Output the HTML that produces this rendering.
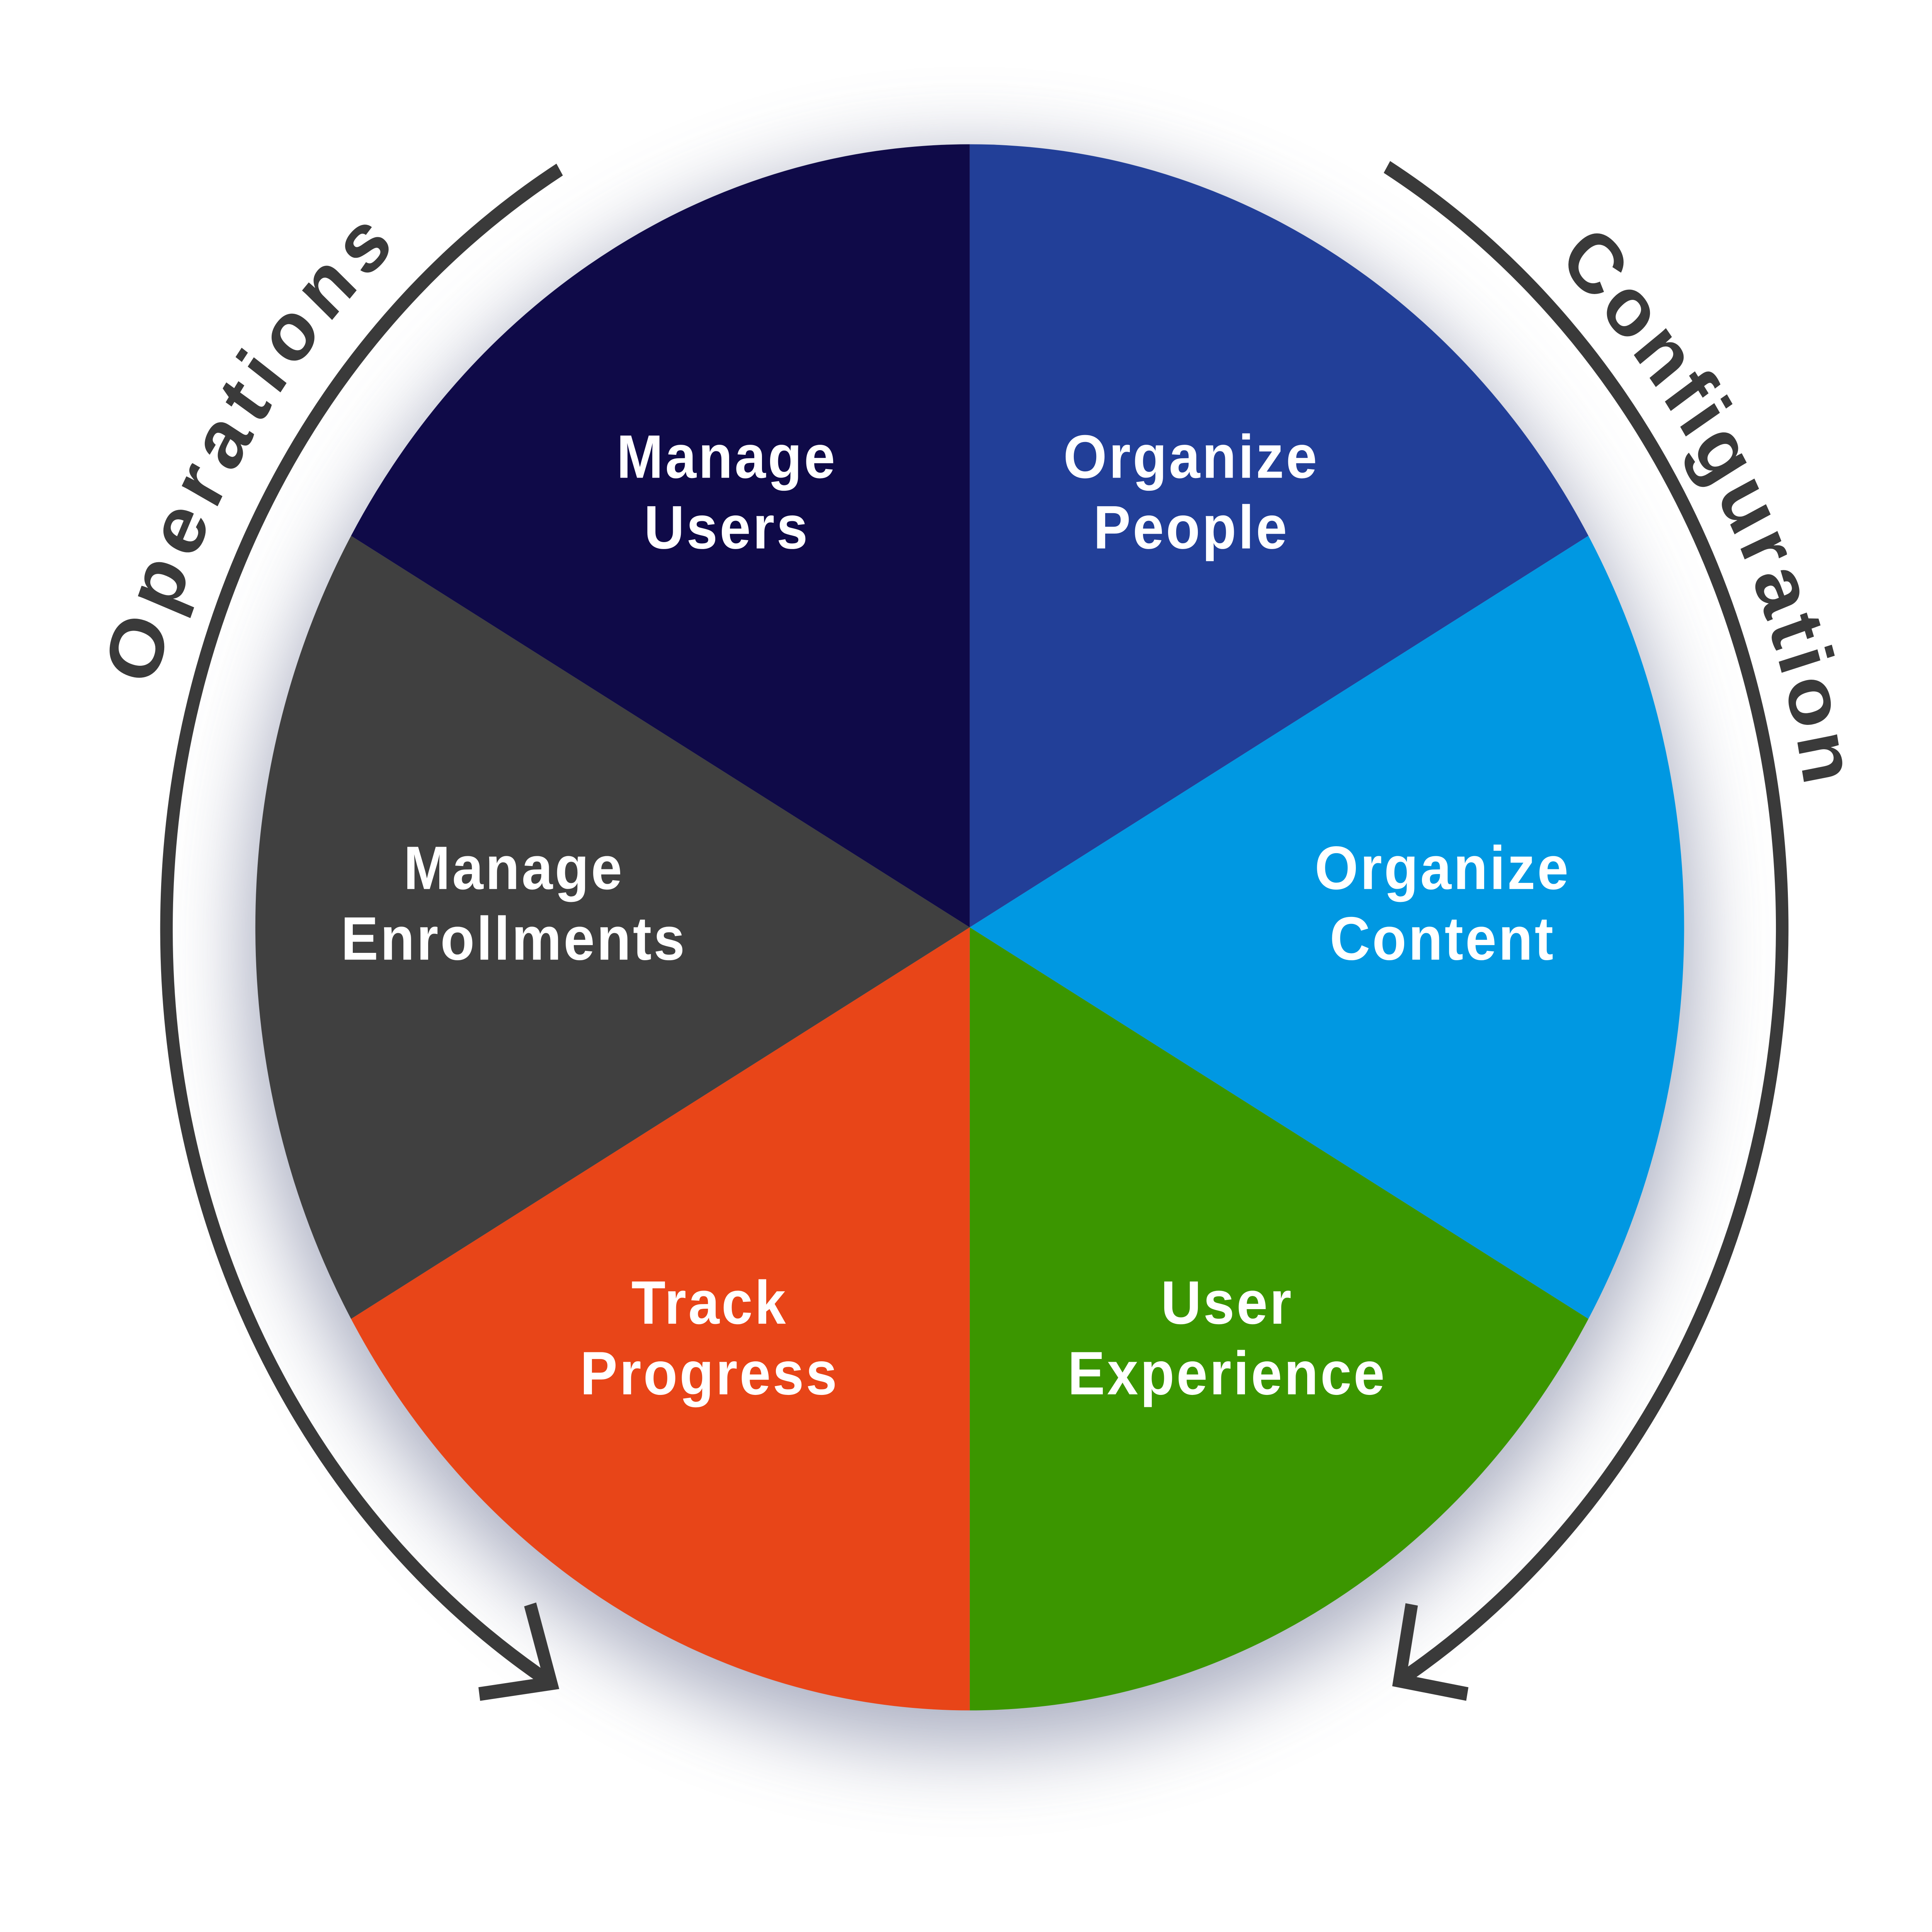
<!DOCTYPE html>
<html><head><meta charset="utf-8"><style>html,body{margin:0;padding:0;background:#fff;width:100%;height:100%;overflow:hidden}svg{display:block;width:100vw;height:100vh}</style></head>
<body>
<svg viewBox="0 0 5696 5196" preserveAspectRatio="none" xmlns="http://www.w3.org/2000/svg">
<defs>
<filter id="sh" x="-30%" y="-30%" width="160%" height="160%"><feGaussianBlur stdDeviation="110"/></filter>
</defs>
<rect width="5696" height="5196" fill="#fff"/>
<circle cx="2859" cy="2560" r="2140" fill="#8f94ad" opacity="0.75" filter="url(#sh)"/>
<g transform="translate(2859,2494)">
<path d="M0 0 L0 -2106 A2106 2106 0 0 1 1824 -1053 Z" fill="#223f98"/>
<path d="M0 0 L1824 -1053 A2106 2106 0 0 1 1824 1053 Z" fill="#0098e2"/>
<path d="M0 0 L1824 1053 A2106 2106 0 0 1 0 2106 Z" fill="#3b9600"/>
<path d="M0 0 L0 2106 A2106 2106 0 0 1 -1824 1053 Z" fill="#e84518"/>
<path d="M0 0 L-1824 1053 A2106 2106 0 0 1 -1824 -1053 Z" fill="#404040"/>
<path d="M0 0 L-1824 -1053 A2106 2106 0 0 1 0 -2106 Z" fill="#0f0a48"/>
</g>
<g font-family="Liberation Sans, sans-serif" font-weight="bold" font-size="165" letter-spacing="6" fill="#fff" text-anchor="middle">
<text x="2143" y="1285">Manage</text><text x="2143" y="1475">Users</text>
<text x="3512" y="1285">Organize</text><text x="3512" y="1475">People</text>
<text x="1515" y="2391">Manage</text><text x="1515" y="2581">Enrollments</text>
<text x="4253" y="2391">Organize</text><text x="4253" y="2581">Content</text>
<text x="2092" y="3560">Track</text><text x="2092" y="3750">Progress</text>
<text x="3618" y="3560">User</text><text x="3618" y="3750">Experience</text>
</g>
<g fill="none" stroke="#3a3a3a" stroke-width="37">
<path d="M1650 456 A2380 2380 0 0 0 1625 4527"/>
<path d="M1563 4315 L1625 4527 L1413 4556"/>
<path d="M4089 449 A2380 2380 0 0 1 4126 4520"/>
<path d="M4162 4315 L4126 4520 L4326 4556"/>
</g>
<path id="pl" d="M454 1850 A2490 2490 0 0 1 1326 532" fill="none"/>
<path id="pr" d="M4589 703 A2490 2490 0 0 1 5330 2190" fill="none"/>
<g font-family="Liberation Sans, sans-serif" font-weight="bold" font-size="225" fill="#3a3a3a">
<text><textPath href="#pl" textLength="1400" lengthAdjust="spacing">Operations</textPath></text>
<text><textPath href="#pr" textLength="1620" lengthAdjust="spacing">Configuration</textPath></text>
</g>
</svg>
</body></html>
